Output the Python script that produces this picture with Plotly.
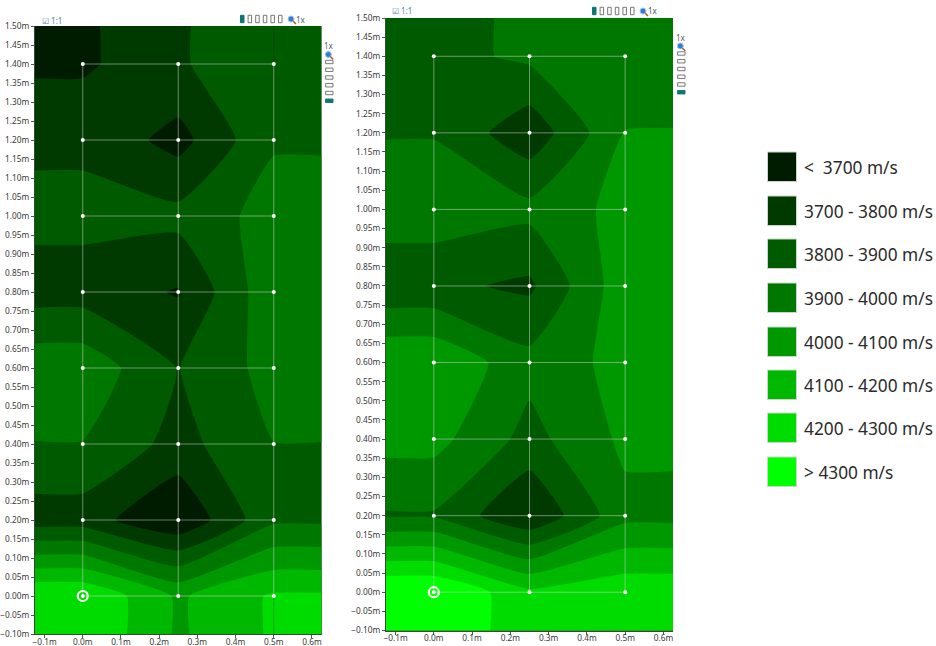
import plotly.graph_objects as go

W, H = 936, 646

# Measurement node positions (m)
node_x = [0.0, 0.25, 0.5]
node_y = [0.0, 0.2, 0.4, 0.6, 0.8, 1.0, 1.2, 1.4]

# Velocity at each node (m/s), bottom row first, left to right in a row
left_col_a = [4299, 3749, 3897, 3969, 3756, 3827, 3782, 3681]
mid_col_a = [4085, 3608, 3764, 3797, 3692, 3831, 3663, 3786]
right_col_a = [4214, 3882, 3899, 3939, 3976, 3938, 3890, 3892]

left_col_b = [4410, 3890, 4035, 4089, 3823, 3960, 3894, 3862]
mid_col_b = [4223, 3704, 3866, 3933, 3781, 3929, 3731, 3922]
right_col_b = [4273, 3971, 4021, 4034, 4063, 4031, 4001, 3985]

# Axis extent
x_range = [-0.125, 0.625]
y_range = [-0.10, 1.50]

# Legend
legend_labels = ["<  3700 m/s", "3700 - 3800 m/s", "3800 - 3900 m/s", "3900 - 4000 m/s",
                 "4000 - 4100 m/s", "4100 - 4200 m/s", "4200 - 4300 m/s", "> 4300 m/s"]
band_colors = ["#001c00", "#003a00", "#005a00", "#007800", "#009800", "#00b800", "#00dc00", "#00ff00"]
levels_start, levels_end, levels_step = 3700, 4300, 100


def px(x):
    return x / W


def py(y):
    return 1 - y / H


def extended(cols):
    """Zone outside the mesh carries the value of the nearest node."""
    xs = [x_range[0]] + node_x + [x_range[1]]
    ys = [y_range[0]] + node_y + [y_range[1]]
    rows = []
    for i in list(range(len(node_y))):
        r = [c[i] for c in cols]
        rows.append([r[0]] + r + [r[-1]])
    rows = [rows[0]] + rows + [rows[-1]]
    return xs, ys, rows


def mesh_lines():
    xs, ys = [], []
    for y in node_y:
        xs += [node_x[0], node_x[-1], None]
        ys += [y, y, None]
    for x in node_x:
        xs += [x, x, None]
        ys += [node_y[0], node_y[-1], None]
    return xs, ys


fig = go.Figure()
n = len(band_colors)
zmin = levels_start - levels_step / 2
zmax = levels_end + levels_step / 2
cscale = [[i / (n - 1), c] for i, c in enumerate(band_colors)]

panels = [
    dict(cols=[left_col_a, mid_col_a, right_col_a], xa="x", ya="y",
         dom_x=(35, 321.5), dom_y=(26, 634), guide=True),
    dict(cols=[left_col_b, mid_col_b, right_col_b], xa="x2", ya="y2",
         dom_x=(386, 673), dom_y=(18, 630.5), guide=False),
]

for p in panels:
    xs, ys, z = extended(p["cols"])
    fig.add_trace(go.Contour(
        x=xs, y=ys, z=z, xaxis=p["xa"], yaxis=p["ya"],
        zmin=zmin, zmax=zmax, zauto=False, colorscale=cscale, showscale=False,
        autocontour=False, ncontours=7,
        contours=dict(start=levels_start, end=levels_end, size=levels_step, coloring="fill", showlines=False),
        line=dict(width=0, smoothing=0.4),
        hoverinfo="skip",
    ))
    if p["guide"]:
        fig.add_trace(go.Scatter(
            x=[node_x[-1], node_x[-1], None, node_x[-1], node_x[-1]],
            y=[node_y[-1], y_range[1], None, y_range[0], node_y[0]],
            mode="lines", line=dict(color="rgba(0,40,0,0.3)", width=1),
            xaxis=p["xa"], yaxis=p["ya"], showlegend=False, hoverinfo="skip"))
    lx, ly = mesh_lines()
    fig.add_trace(go.Scatter(x=lx, y=ly, mode="lines",
                             line=dict(color="rgba(215,215,215,0.5)", width=1),
                             xaxis=p["xa"], yaxis=p["ya"], showlegend=False, hoverinfo="skip"))
    fig.add_trace(go.Scatter(
        x=[x for x in node_x for _ in node_y], y=[y for _ in node_x for y in node_y],
        mode="markers", marker=dict(color="white", size=4),
        xaxis=p["xa"], yaxis=p["ya"], showlegend=False, hoverinfo="skip"))
    fig.add_trace(go.Scatter(
        x=[node_x[0]], y=[node_y[0]], mode="markers",
        marker=dict(symbol="circle-open", color="white", size=10, line=dict(color="white", width=2.2)),
        xaxis=p["xa"], yaxis=p["ya"], showlegend=False, hoverinfo="skip"))

axis_font = dict(family="Noto Sans, Open Sans, sans-serif", size=8.3, color="#3a3a3a")
layout = dict(
    width=W, height=H, margin=dict(l=0, r=0, t=0, b=0, pad=0), autosize=False,
    paper_bgcolor="white", plot_bgcolor="white", showlegend=False,
    font=axis_font, template="none",
)
for i, p in enumerate(panels):
    s = "" if i == 0 else "2"
    layout["xaxis" + s] = dict(
        domain=[px(p["dom_x"][0]), px(p["dom_x"][1])], range=x_range, anchor="y" + s, automargin=False,
        tick0=0, dtick=0.1, tickformat=".1f", ticksuffix="m", ticks="outside", ticklen=3,
        ticklabelstandoff=-3,
        tickcolor="#555", showgrid=False, zeroline=False, showline=True, linecolor="#2f4f2f",
        linewidth=1, tickfont=axis_font, mirror=False)
    layout["yaxis" + s] = dict(
        domain=[py(p["dom_y"][1]), py(p["dom_y"][0])], range=y_range, anchor="x" + s, automargin=False,
        tick0=0, dtick=0.05, tickformat=".2f", ticksuffix="m", ticks="outside", ticklen=3,
        tickcolor="#555", showgrid=False, zeroline=False, showline=True, linecolor="#2f4f2f",
        linewidth=1, tickfont=axis_font, mirror=False)
fig.update_layout(**layout)

shapes, notes = [], []


def rect(x0, y0, x1, y1, fill="rgba(0,0,0,0)", line="#8a8a8a", lw=1):
    shapes.append(dict(type="rect", xref="paper", yref="paper", x0=px(x0), x1=px(x1), y0=py(y0), y1=py(y1),
                       fillcolor=fill, line=dict(color=line, width=lw), layer="above"))


def text(x, y, s, size, color, anchor="left"):
    notes.append(dict(xref="paper", yref="paper", x=px(x), y=py(y), text=s, showarrow=False,
                      xanchor=anchor, yanchor="middle", align=anchor, borderpad=0, borderwidth=0,
                      font=dict(family="Noto Sans, Open Sans, sans-serif", size=size, color=color)))


def magnifier(cx, cy):
    shapes.append(dict(type="circle", xref="paper", yref="paper", x0=px(cx - 3), x1=px(cx + 3),
                       y0=py(cy + 3), y1=py(cy - 3), fillcolor="#2f7fd0", line=dict(color="#a8c8e8", width=1)))
    shapes.append(dict(type="line", xref="paper", yref="paper", x0=px(cx + 2), x1=px(cx + 5),
                       y0=py(cy + 2), y1=py(cy + 5), line=dict(color="#a06030", width=1.5)))


def toolbar(label_x, label_y, top_x0, top_y, mag_x, right_x, right_y0, right_step):
    text(label_x, label_y, "\u2611 1:1", 8, "#4f86a8")
    for k in range(6):
        x0 = top_x0 + k * 7.6
        filled = k == 0
        rect(x0, top_y - 3.7, x0 + 3.5, top_y + 3.7,
             fill="#0e7575" if filled else "white", line="#0e7575" if filled else "#777")
    magnifier(mag_x, top_y)
    text(mag_x + 5, top_y, "1x", 8, "#4a5a6a")
    text(right_x, right_y0 - 16.5, "1x", 8, "#4a5a6a", anchor="center")
    magnifier(right_x - 1, right_y0 - 7.5)
    for k in range(6):
        y0 = right_y0 + k * right_step
        filled = k == 5
        rect(right_x - 3.7, y0 - 1.7, right_x + 3.7, y0 + 1.7,
             fill="#0e7575" if filled else "white", line="#0e7575" if filled else "#777")


toolbar(42, 20, 240.5, 19, 291, 329.3, 62, 7.75)
toolbar(392, 11, 592.5, 11, 643, 681.3, 53.5, 7.75)

square_tops = [152, 196, 239, 283, 327, 370, 413, 457]
for label, color, top in zip(legend_labels, band_colors, square_tops):
    rect(767.5, top, 796.5, top + 29.5, fill=color, line="#c8d8c8")
    text(804, top + 15, label, 17.3, "#2b2b2b")

fig.update_layout(shapes=shapes, annotations=notes)
fig.write_html("out.html", config={"displayModeBar": False},
               post_script="document.body.style.margin='0';")
